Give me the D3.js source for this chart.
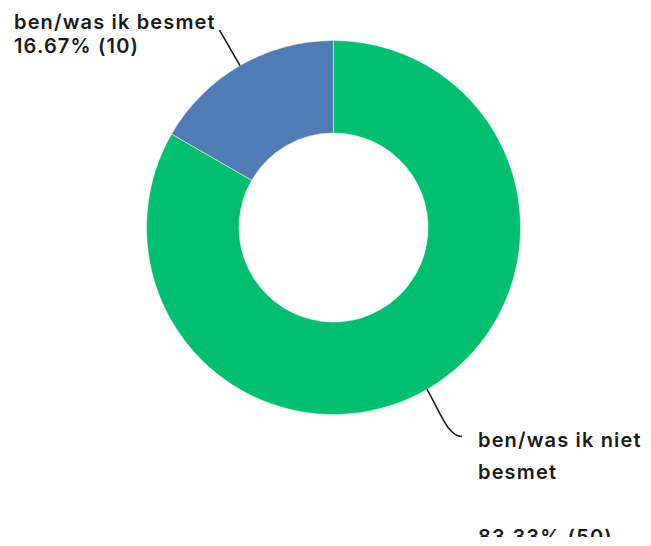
<!DOCTYPE html>
<html><head><meta charset="utf-8">
<script src="https://cdn.jsdelivr.net/npm/d3@7"></script>
<style>body{margin:0;background:#fff}svg{display:block}</style>
</head><body>
<script>
const categories = ["ben/was ik niet besmet", "ben/was ik besmet"];
const counts = [50, 10];
const percentLabels = ["83.33% (50)", "16.67% (10)"];
const colors = ["#00c070", "#4f7cb4"];

const W = 651, H = 537;
const cx = 333.5, cy = 227.5, R = 187, r = 94.5;
const svg = d3.select("body").append("svg").attr("width", W).attr("height", H);
const g = svg.append("g").attr("transform", `translate(${cx},${cy})`);

const data = categories.map((c, i) => ({cat: c, value: counts[i], pct: percentLabels[i], color: colors[i]}));
const pie = d3.pie().sort(null).value(d => d.value);
const arcs = pie(data);
const arc = d3.arc().innerRadius(r).outerRadius(R);

g.selectAll("path.slice").data(arcs).join("path")
  .attr("class", "slice")
  .attr("d", arc)
  .attr("fill", d => d.data.color)
  .attr("stroke", "#ffffff").attr("stroke-width", 0.5);

const pt = (a, rad) => [Math.sin(a) * rad, -Math.cos(a) * rad];
const styleText = t => t.attr("font-family", "Inter, 'Open Sans', sans-serif").attr("font-weight", 600)
    .attr("font-size", 20).attr("letter-spacing", 1.15).attr("fill", "#1a1a1a");

// blue label (index 1)
{
  const d = arcs[1];
  const a = (d.startAngle + d.endAngle) / 2;
  const p0 = pt(a, R), p1 = pt(a, R + 41);
  g.append("path").attr("d", `M${p0[0]},${p0[1]}L${p1[0]},${p1[1]}`)
    .attr("fill", "none").attr("stroke", "#111").attr("stroke-width", 1.5);
  const t = styleText(svg.append("text"));
  t.append("tspan").attr("x", 14).attr("y", 28.5).text(d.data.cat);
  t.append("tspan").attr("x", 14).attr("y", 53).text(d.data.pct);
}
// green label (index 0)
{
  const d = arcs[0];
  const a = (d.startAngle + d.endAngle) / 2;
  const p0 = pt(a, R);
  const p1 = [462 - cx, 436.5 - cy];
  const c1 = pt(a, R + 28);
  const c2 = [p1[0] - 14, p1[1]];
  g.append("path").attr("d", `M${p0[0]},${p0[1]}C${c1[0]},${c1[1]} ${c2[0]},${c2[1]} ${p1[0]},${p1[1]}`)
    .attr("fill", "none").attr("stroke", "#111").attr("stroke-width", 1.5);
  const words = d.data.cat.split(" ");
  const t = styleText(svg.append("text"));
  t.append("tspan").attr("x", 478).attr("y", 447).text(words.slice(0, 3).join(" "));
  t.append("tspan").attr("x", 478).attr("y", 479).text(words.slice(3).join(" "));
  t.append("tspan").attr("x", 478).attr("y", 544).text(d.data.pct);
}
</script>
</body></html>
